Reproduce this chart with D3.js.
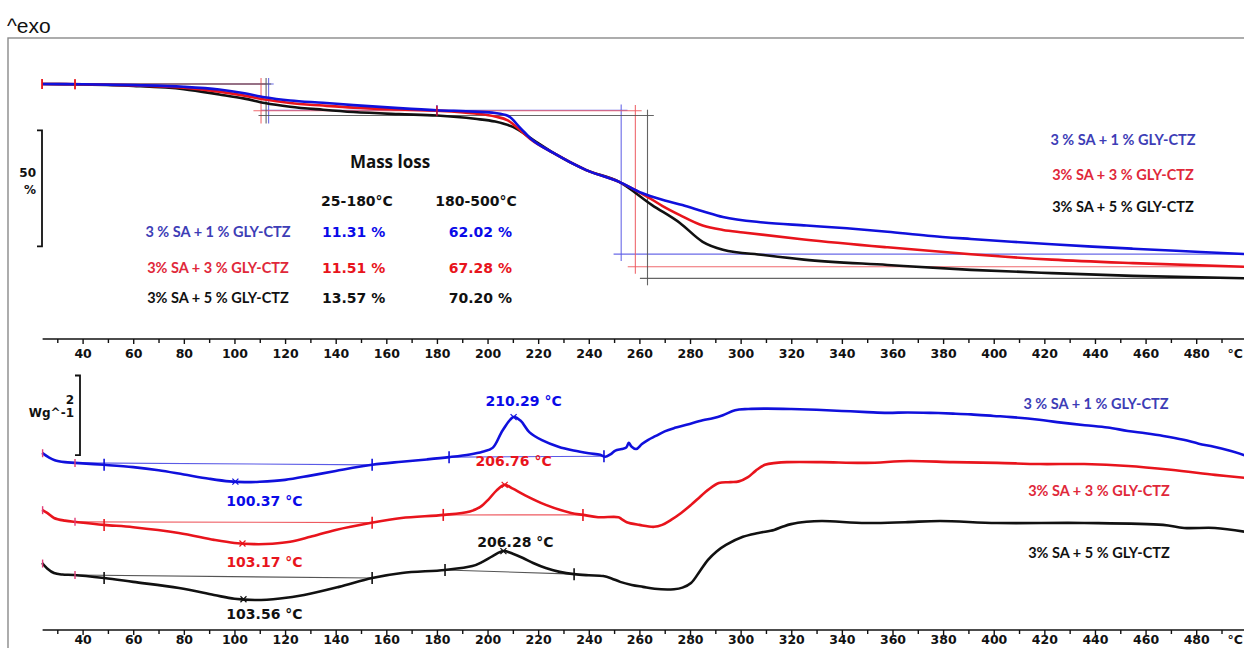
<!DOCTYPE html>
<html>
<head>
<meta charset="utf-8">
<script src="https://cdn.jsdelivr.net/npm/d3@7"></script>
<style>
  html, body { margin: 0; padding: 0; background: #fff; }
  svg { display: block; }
</style>
</head>
<body>
<svg id="chart" width="1244" height="648"></svg>
<script>
// ---- samples and summary values ----
const seriesNames = ["3 % SA + 1 % GLY-CTZ", "3% SA + 3 % GLY-CTZ", "3% SA + 5 % GLY-CTZ"];
const rangeHeaders = ["25-180°C", "180-500°C"];
const lossLow = [11.31, 11.51, 13.57];   // mass loss 25-180 °C (%)
const lossHigh = [62.02, 67.28, 70.20];  // mass loss 180-500 °C (%)

// temperature axis
const tickLabels = [40, 60, 80, 100, 120, 140, 160, 180, 200, 220, 240, 260, 280, 300, 320, 340, 360, 380, 400, 420, 440, 460, 480];
const tickMinor = [30, 50, 70, 90, 110, 130, 150, 170, 190, 210, 230, 250, 270, 290, 310, 330, 350, 370, 390, 410, 430, 450, 470, 490];

// TGA: [temperature °C, residual mass %]
const tgaBlue = [[24, 100], [40, 99.9], [60, 99.5], [80, 98.8], [94, 97.6], [104, 96.0], [112, 94.3], [122, 92.9], [135, 91.9], [147, 90.9], [165, 89.6], [180, 88.69], [195, 88.1], [203, 87.5], [208, 86.3], [213, 81.0], [217, 76.5], [226, 70.3], [239, 62.9], [252, 57.8], [261, 53.0], [270, 49.8], [277, 47.8], [285, 45.2], [293, 42.7], [309, 40.3], [326, 39.0], [342, 37.8], [358, 36.3], [374, 34.6], [391, 33.2], [407, 32.0], [423, 30.9], [439, 29.9], [455, 29.0], [472, 28.1], [486, 27.4], [500, 26.67]];
const tgaRed = [[24, 100], [40, 99.9], [60, 99.4], [80, 98.4], [94, 96.7], [104, 95.0], [112, 93.3], [122, 91.8], [135, 90.7], [147, 89.8], [165, 89.0], [180, 88.49], [195, 87.3], [203, 86.0], [208, 84.3], [213, 80.0], [217, 76.2], [226, 70.3], [239, 62.9], [252, 57.8], [258, 54.5], [263, 51.5], [269, 47.5], [276, 43.5], [285, 39.0], [293, 37.1], [301, 36.0], [325, 33.0], [358, 29.6], [391, 26.6], [423, 24.3], [455, 22.8], [500, 21.21]];
const tgaBlack = [[24, 100], [40, 99.8], [60, 99.2], [80, 97.8], [94, 95.5], [104, 93.7], [112, 91.8], [122, 90.2], [135, 88.9], [147, 87.9], [165, 87.0], [180, 86.43], [195, 85.0], [203, 83.8], [210, 81.5], [219, 75.2], [226, 70.3], [239, 62.9], [252, 57.8], [265, 47.8], [276, 40.1], [285, 32.0], [293, 28.6], [309, 26.3], [325, 24.3], [358, 22.0], [391, 19.9], [423, 18.5], [455, 17.3], [500, 16.23]];
const tgaOnsetFirst = [113.5, 110.5, 112.5];
const tgaOnsetSecond = [252.8, 258.4, 263.2];
const tgaMarkT = [24, 37, 180];

// DSC: [temperature °C, heat flow W/g, curves stacked]
const dscBlue = [[24, 4.86], [26.5, 4.75], [29, 4.67], [33, 4.62], [37, 4.60], [48.5, 4.55], [60, 4.49], [70, 4.41], [80, 4.30], [90, 4.19], [98, 4.12], [104, 4.10], [110, 4.11], [120, 4.16], [130, 4.27], [140, 4.39], [154.4, 4.55], [166, 4.63], [176, 4.69], [184.8, 4.75], [193, 4.82], [198, 4.89], [202, 4.99], [206, 5.45], [210.29, 5.79], [213, 5.70], [216.5, 5.40], [221.5, 5.19], [228, 5.02], [234, 4.92], [240, 4.85], [244.5, 4.81], [246.5, 4.76], [248.5, 4.82], [250.5, 4.92], [253, 4.96], [254.8, 5.00], [255.8, 5.12], [256.8, 5.03], [258.7, 4.96], [261, 5.09], [263.5, 5.20], [266.5, 5.30], [270, 5.42], [274, 5.51], [279, 5.60], [285, 5.71], [289, 5.76], [293, 5.84], [297.8, 5.97], [303, 6.00], [310, 6.01], [320, 6.00], [330, 5.98], [340, 5.95], [350, 5.92], [358, 5.90], [366, 5.91], [375, 5.90], [384, 5.88], [391, 5.86], [400, 5.82], [407, 5.79], [418, 5.72], [425, 5.66], [436, 5.58], [445, 5.52], [453, 5.43], [460, 5.37], [467, 5.30], [475, 5.20], [481, 5.10], [487, 5.02], [493, 4.92], [499, 4.80]];
const dscRed = [[24, 3.38], [26, 3.30], [28.7, 3.17], [33, 3.10], [38.2, 3.06], [48.5, 2.99], [60, 2.93], [78, 2.78], [92, 2.60], [100, 2.52], [107.7, 2.49], [115, 2.50], [122, 2.55], [130, 2.68], [140, 2.86], [153.6, 3.04], [166, 3.17], [182.8, 3.25], [193, 3.34], [197, 3.45], [200.5, 3.66], [203.5, 3.88], [206.76, 4.03], [210, 3.93], [214.5, 3.77], [223, 3.51], [233, 3.30], [237.7, 3.25], [243.7, 3.19], [251.7, 3.19], [253, 3.14], [255, 3.06], [260, 2.99], [265.8, 2.94], [269, 2.99], [272.5, 3.12], [276.5, 3.30], [280.4, 3.51], [284, 3.72], [287.1, 3.90], [291.4, 4.08], [296, 4.10], [299.3, 4.12], [302.9, 4.23], [306, 4.40], [309.6, 4.55], [314, 4.60], [318.3, 4.62], [332, 4.62], [349.5, 4.60], [366.5, 4.65], [383.9, 4.62], [401.3, 4.60], [418.3, 4.57], [435.7, 4.57], [453.1, 4.52], [470, 4.42], [487.4, 4.29], [499.3, 4.21]];
const dscBlack = [[24, 2.00], [26, 1.86], [28.7, 1.74], [32, 1.70], [36.6, 1.69], [48.5, 1.61], [60, 1.51], [78.1, 1.35], [91.9, 1.17], [100, 1.07], [108.5, 1.04], [118, 1.08], [127.5, 1.17], [141.3, 1.38], [154.4, 1.61], [166.2, 1.74], [183.2, 1.82], [194, 1.92], [198, 2.03], [202, 2.18], [206.28, 2.31], [210, 2.24], [214, 2.13], [218, 2.00], [223, 1.87], [228.5, 1.77], [234.2, 1.71], [240, 1.68], [245.7, 1.66], [249, 1.60], [252.4, 1.51], [257, 1.43], [261.4, 1.38], [266, 1.33], [273.7, 1.32], [277, 1.36], [280.4, 1.48], [284, 1.80], [287.1, 2.08], [290.5, 2.30], [294.2, 2.47], [300.9, 2.68], [307, 2.78], [313.2, 2.86], [316.5, 2.94], [319.9, 3.01], [326, 3.07], [332.1, 3.09], [349.5, 3.04], [365, 3.06], [378.8, 3.09], [401.3, 3.04], [435.7, 3.04], [466.9, 2.99], [475.2, 2.91], [487.4, 2.91], [499.3, 2.81]];
const dscMinT = [100.37, 103.17, 103.56];
const dscPeakT = [210.29, 206.76, 206.28];
const dscFirstLimits = [37, 48.5, 154.4];
const dscSecondLimits = [[184.8, 246], [182.5, 237.7], [183.2, 234.2]];

// ---- styling ----
const curveColors = ["#1010dc", "#e8141c", "#111111"];
const guideColors = ["#5a5ae6", "#ee5a60", "#555555"];
const legendColors = ["#3d3db6", "#e0283a", "#111111"];
const valueColors = ["#0a0ae8", "#e8141c", "#111111"];
const tgaSeries = [tgaBlue, tgaRed, tgaBlack];
const dscSeries = [dscBlue, dscRed, dscBlack];

const svg = d3.select("#chart");
const W = 1244, H = 648;

const x = d3.scaleLinear().domain([40, 480]).range([82.6, 1196.2]);
const yTga = d3.scaleLinear().domain([0, 100]).range([316, 84]);
const yDsc = d3.scaleLinear().domain([0, 7]).range([640, 370.5]);

const boldSans = "'DejaVu Sans', Verdana, sans-serif";
const labelSans = "Lato, 'Open Sans', sans-serif";

svg.append("defs").append("clipPath").attr("id", "frameClip")
  .append("rect").attr("x", 9).attr("y", 39).attr("width", W).attr("height", H);

// "^exo" marker and outer frame
svg.append("text").attr("x", 7).attr("y", 33)
  .style("font-family", "'Liberation Sans', Arial, sans-serif").style("font-size", "21px").style("fill", "#111")
  .text("^exo");
svg.append("rect").attr("x", 8).attr("y", 38).attr("width", W + 10).attr("height", H)
  .attr("fill", "none").attr("stroke", "#8a8a8a").attr("stroke-width", 1.4);

const plot = svg.append("g").attr("clip-path", "url(#frameClip)");

function interp(series, t) {
  for (let i = 1; i < series.length; i++) {
    if (series[i][0] >= t) {
      const [t0, v0] = series[i - 1], [t1, v1] = series[i];
      return v0 + (v1 - v0) * (t - t0) / (t1 - t0);
    }
  }
  return series[series.length - 1][1];
}

// ---- temperature axes ----
function drawAxis(yPos, pad) {
  const g = svg.append("g").attr("transform", `translate(0,${yPos})`);
  g.append("line").attr("x1", x(24.2)).attr("x2", W).attr("stroke", "#111").attr("stroke-width", 1.6);
  const major = d3.axisBottom(x).tickValues(tickLabels).tickSize(5).tickPadding(pad).tickFormat(d3.format("d"));
  const ga = g.append("g").call(major);
  ga.select(".domain").remove();
  ga.selectAll(".tick line").attr("stroke", "#111").attr("stroke-width", 1.4);
  ga.selectAll(".tick text").style("font-family", boldSans).style("font-weight", "bold")
    .style("font-size", "12.5px").attr("fill", "#111");
  const minor = d3.axisBottom(x).tickValues(tickMinor).tickSize(4).tickFormat("");
  const gm = g.append("g").call(minor);
  gm.select(".domain").remove();
  gm.selectAll(".tick line").attr("stroke", "#111").attr("stroke-width", 1.4);
  g.append("text").attr("x", W - 1).attr("y", 5 + pad).attr("dy", "0.71em").attr("text-anchor", "end")
    .style("font-family", boldSans).style("font-weight", "bold").style("font-size", "12.5px").attr("fill", "#111")
    .text("°C");
}
drawAxis(339, 5);
drawAxis(630, 0);

// ---- scale bars ----
function scaleBar(xPos, yTop, yBot, lines, lineYs) {
  const p = d3.path();
  p.moveTo(xPos - 5, yTop); p.lineTo(xPos, yTop); p.lineTo(xPos, yBot); p.lineTo(xPos - 5, yBot);
  svg.append("path").attr("d", p.toString()).attr("fill", "none").attr("stroke", "#111").attr("stroke-width", 1.8);
  lines.forEach((t, i) => {
    svg.append("text").attr("x", xPos - 6).attr("y", lineYs[i]).attr("text-anchor", "end")
      .style("font-family", boldSans).style("font-weight", "bold").style("font-size", "12px").attr("fill", "#111")
      .text(t);
  });
}
scaleBar(42, yTga(80), yTga(30), ["50", "%"], [yTga(59.9), yTga(52.4)]);
scaleBar(80, yDsc(6.87), yDsc(4.80), ["2", "Wg^-1"], [yDsc(6.14), yDsc(5.80)]);

// ---- TGA ----
const tgaLine = d3.line().x(d => x(d[0])).y(d => yTga(d[1])).curve(d3.curveMonotoneX);

tgaSeries.forEach((s, i) => {
  const g = plot.append("g");
  const stepLevel = 100 - lossLow[i];
  const finalLevel = 100 - lossLow[i] - lossHigh[i];
  const segs = [
    [[24, 100], [tgaOnsetFirst[i] + 2, 100]],
    [[tgaOnsetFirst[i], 102.6], [tgaOnsetFirst[i], 83]],
    [[tgaOnsetFirst[i] - 3, stepLevel], [tgaOnsetSecond[i] + 2.5, stepLevel]],
    [[tgaOnsetSecond[i], stepLevel + 2.5], [tgaOnsetSecond[i], finalLevel - 3]],
    [[tgaOnsetSecond[i] - 3, finalLevel], [505, finalLevel]]
  ];
  segs.forEach(seg => {
    g.append("line")
      .attr("x1", x(seg[0][0])).attr("y1", yTga(seg[0][1]))
      .attr("x2", x(seg[1][0])).attr("y2", yTga(seg[1][1]))
      .attr("stroke", guideColors[i]).attr("stroke-width", 1.1).attr("opacity", 0.9);
  });
});
[2, 1, 0].forEach(i => {
  plot.append("path").datum(tgaSeries[i]).attr("d", tgaLine)
    .attr("fill", "none").attr("stroke", curveColors[i]).attr("stroke-width", 2.6)
    .attr("stroke-linejoin", "round");
});
// evaluation marks on the mass curves
[0, 1].forEach(i => {
  tgaMarkT.forEach(t => {
    const cx = x(t), cy = yTga(interp(tgaSeries[i], t));
    plot.append("line").attr("x1", cx).attr("x2", cx).attr("y1", cy - 5).attr("y2", cy + 5)
      .attr("stroke", i === 0 && t === 180 ? curveColors[0] : "#e8141c").attr("stroke-width", 1.4);
  });
});

// ---- DSC ----
const dscLine = d3.line().x(d => x(d[0])).y(d => yDsc(d[1])).curve(d3.curveCatmullRom.alpha(0.5));

dscSeries.forEach((s, i) => {
  const g = plot.append("g");
  // integration baselines
  const b1 = [dscFirstLimits[0], dscFirstLimits[2]];
  const b2 = dscSecondLimits[i];
  [b1, b2].forEach(b => {
    g.append("line")
      .attr("x1", x(b[0])).attr("y1", yDsc(interp(s, b[0])))
      .attr("x2", x(b[1])).attr("y2", yDsc(interp(s, b[1])))
      .attr("stroke", guideColors[i]).attr("stroke-width", 1.1);
  });
  g.append("path").datum(s).attr("d", dscLine)
    .attr("fill", "none").attr("stroke", curveColors[i]).attr("stroke-width", 2.6)
    .attr("stroke-linejoin", "round");
  // limit ticks
  const limits = [dscFirstLimits[1], dscFirstLimits[2], b2[0], b2[1]];
  limits.forEach(t => {
    const cx = x(t), cy = yDsc(interp(s, t));
    g.append("line").attr("x1", cx).attr("x2", cx).attr("y1", cy - 6).attr("y2", cy + 6)
      .attr("stroke", curveColors[i]).attr("stroke-width", 1.6);
  });
  [24.2, dscFirstLimits[0]].forEach(t => {
    const cx = x(t), cy = yDsc(interp(s, t));
    g.append("line").attr("x1", cx).attr("x2", cx).attr("y1", cy - 4).attr("y2", cy + 4)
      .attr("stroke", "#e0407a").attr("stroke-width", 1.4);
  });
  // peak markers
  [dscMinT[i], dscPeakT[i]].forEach(t => {
    const cx = x(t), cy = yDsc(interp(s, t));
    g.append("path").attr("d", `M${cx - 3},${cy - 3}L${cx + 3},${cy + 3}M${cx - 3},${cy + 3}L${cx + 3},${cy - 3}`)
      .attr("stroke", curveColors[i]).attr("stroke-width", 1.2);
  });
});

// peak temperature labels
const peakLabelShift = [[10, -11], [9, -19], [12, -4]];
const minLabelShift = [[29, 24], [22, 24], [21, 20]];
dscSeries.forEach((s, i) => {
  const style = sel => sel.attr("text-anchor", "middle").style("font-family", boldSans)
    .style("font-weight", "bold").style("font-size", "14px").attr("fill", valueColors[i]);
  svg.append("text").attr("x", x(dscPeakT[i]) + peakLabelShift[i][0])
    .attr("y", yDsc(interp(s, dscPeakT[i])) + peakLabelShift[i][1])
    .call(style).text(`${dscPeakT[i].toFixed(2)} °C`);
  svg.append("text").attr("x", x(dscMinT[i]) + minLabelShift[i][0])
    .attr("y", yDsc(interp(s, dscMinT[i])) + minLabelShift[i][1])
    .call(style).text(`${dscMinT[i].toFixed(2)} °C`);
});

// ---- legends ----
const legendTga = [145, 180, 212];
const legendDsc = [[1096, 409], [1099, 496], [1099, 558]];
seriesNames.forEach((name, i) => {
  svg.append("text").attr("x", 1123).attr("y", legendTga[i]).attr("text-anchor", "middle")
    .style("font-family", labelSans).style("font-weight", "bold").style("font-size", "14.5px")
    .attr("fill", legendColors[i]).text(name);
  svg.append("text").attr("x", legendDsc[i][0]).attr("y", legendDsc[i][1]).attr("text-anchor", "middle")
    .style("font-family", labelSans).style("font-weight", "bold").style("font-size", "14.5px")
    .attr("fill", legendColors[i]).text(name);
});

// ---- mass loss table ----
svg.append("text").attr("x", 390).attr("y", 168).attr("text-anchor", "middle")
  .style("font-family", "'Open Sans', sans-serif").style("font-weight", "bold").style("font-size", "17px")
  .attr("fill", "#111").text("Mass loss");
const headStyle = sel => sel.style("font-family", boldSans).style("font-weight", "bold")
  .style("font-size", "14px").attr("fill", "#111");
svg.append("text").attr("x", 357).attr("y", 206).attr("text-anchor", "middle").call(headStyle).text(rangeHeaders[0]);
svg.append("text").attr("x", 476).attr("y", 206).attr("text-anchor", "middle").call(headStyle).text(rangeHeaders[1]);
const rowY = [237, 273, 303];
seriesNames.forEach((name, i) => {
  svg.append("text").attr("x", 218).attr("y", rowY[i]).attr("text-anchor", "middle")
    .style("font-family", labelSans).style("font-weight", "bold").style("font-size", "14.5px")
    .attr("fill", legendColors[i]).text(name);
  svg.append("text").attr("x", 322).attr("y", rowY[i]).attr("text-anchor", "start")
    .call(headStyle).attr("fill", valueColors[i])
    .text(`${lossLow[i].toFixed(2)} %`);
  svg.append("text").attr("x", 512).attr("y", rowY[i]).attr("text-anchor", "end")
    .call(headStyle).attr("fill", valueColors[i])
    .text(`${lossHigh[i].toFixed(2)} %`);
});
</script>
</body>
</html>
